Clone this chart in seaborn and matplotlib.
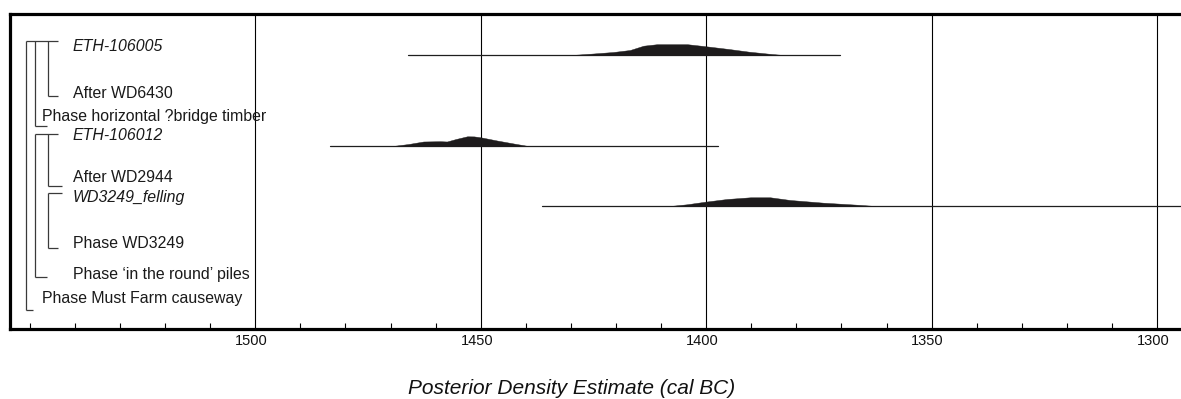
import numpy as np
import pandas as pd
import matplotlib
matplotlib.use("Agg")
import matplotlib.pyplot as plt
import seaborn as sns
from matplotlib.ticker import MultipleLocator, FixedLocator
from matplotlib.transforms import ScaledTranslation

# ---------------- data ----------------
eth106005_years = [1429.8, 1425.0, 1420.6, 1416.9, 1413.9, 1410.9, 1404.2, 1400.2, 1395.0, 1390.5, 1385.5, 1382.9]
eth106005_dens = [0, 1.5, 3.0, 5.0, 9.3, 10.8, 10.8, 8.8, 6.0, 3.3, 1.0, 0]

eth106012_years = [1469.5, 1466.0, 1462.7, 1459.0, 1457.5, 1455.5, 1453.0, 1451.5, 1450.0, 1446.4, 1442.7, 1439.5]
eth106012_dens = [0, 2.0, 4.5, 4.8, 4.5, 7.0, 9.7, 9.6, 8.7, 5.5, 2.5, 0]

wd3249_years = [1408.0, 1404.3, 1400.2, 1395.4, 1390.2, 1385.8, 1381.4, 1374.0, 1366.6, 1362.5]
wd3249_dens = [0, 1.7, 4.3, 7.0, 8.7, 8.7, 6.0, 3.3, 1.3, 0]

dist_names = ["ETH-106005", "ETH-106012", "WD3249_felling"]
range_start = [1466.1, 1483.4, 1436.4]
range_end = [1370.3, 1397.4, 1290.0]

label_names = ["ETH-106005", "After WD6430", "Phase horizontal ?bridge timber",
               "ETH-106012", "After WD2944", "WD3249_felling", "Phase WD3249",
               "Phase \u2018in the round\u2019 piles", "Phase Must Farm causeway"]
label_italic = [True, False, False, True, False, True, False, False, False]

major_ticks = [1500, 1450, 1400, 1350, 1300]
tick_labels = ["1500", "1450", "1400", "1350", "1300"]
xlabel = "Posterior Density Estimate (cal BC)"

# ---------------- layout (pixel rows) ----------------
W, H = 1181, 399
dist_base = [55, 146, 206]
label_x = [73, 73, 42, 73, 73, 73, 73, 73, 42]
label_base = [50.7, 97.7, 120.7, 140.0, 181.7, 201.7, 248.3, 279.3, 303.3]
brackets = [
    (26, 41, 58, 41), (26, 41, 26, 310), (26, 310, 33, 310),
    (35, 41, 35, 126), (35, 126, 47, 126),
    (48, 41, 48, 96), (48, 96, 58, 96),
    (35, 134, 58, 134), (35, 134, 35, 277), (35, 277, 47, 277),
    (48, 134, 48, 186), (48, 186, 62, 186),
    (48, 193, 62, 193), (48, 193, 48, 248), (48, 248, 58, 248),
]

sns.set_theme(style="white")
plt.rcParams["font.family"] = ["Liberation Sans", "DejaVu Sans"]

fig = plt.figure(figsize=(W / 100, H / 100), dpi=100)
ax = fig.add_axes([10 / W, 1 - 328.5 / H, 1 - 10 / W, (328.5 - 13.5) / H])
ax.set_xlim(1554.4, 1294.7)
ax.set_ylim(328.5, 13.5)

# range lines
rows = []
for n, s, e, b in zip(dist_names, range_start, range_end, dist_base):
    rows.append({"name": n, "year": s, "y": b})
    rows.append({"name": n, "year": e, "y": b})
df = pd.DataFrame(rows)
sns.lineplot(data=df, x="year", y="y", units="name", estimator=None, color="#1e1e1e",
             lw=0.9, ax=ax, legend=False, zorder=3)

# distributions
fill_col = "#1d1b1c"
for yrs, dens, b in [(eth106005_years, eth106005_dens, dist_base[0]),
                     (eth106012_years, eth106012_dens, dist_base[1]),
                     (wd3249_years, wd3249_dens, dist_base[2])]:
    yrs = np.array(yrs)
    dens = np.array(dens)
    ax.fill_between(yrs, b, b - dens, color=fill_col, lw=0.3, zorder=4)

# axes styling
ax.set_xlabel("")
ax.set_ylabel("")
ax.xaxis.set_major_locator(FixedLocator(major_ticks))
ax.set_xticklabels(tick_labels, fontsize=10.5, color="#111111")
ax.xaxis.set_minor_locator(MultipleLocator(10))
ax.tick_params(axis="x", which="major", length=0, pad=4)
ax.tick_params(axis="x", which="minor", direction="in", length=4, width=0.8,
               color="black", bottom=True)
ax.set_yticks([])
ax.grid(axis="x", which="major", color="black", lw=0.8)
ax.grid(axis="y", visible=False)
for side in ["left", "top", "bottom"]:
    ax.spines[side].set_visible(True)
    ax.spines[side].set_color("black")
    ax.spines[side].set_linewidth(2.3)
ax.spines["right"].set_visible(False)
off = ScaledTranslation(-4 / 100, 0, fig.dpi_scale_trans)
for lab in ax.get_xticklabels():
    lab.set_transform(lab.get_transform() + off)

# overlay for labels and brackets
ov = fig.add_axes([0, 0, 1, 1], zorder=5)
ov.set_xlim(0, W)
ov.set_ylim(H, 0)
ov.axis("off")
for x0, y0, x1, y1 in brackets:
    ov.plot([x0, x1], [y0, y1], color="#3a3a3a", lw=0.9, solid_capstyle="butt")
for name, it, x, y in zip(label_names, label_italic, label_x, label_base):
    ov.text(x, y, name, fontsize=11.4, style="italic" if it else "normal",
            ha="left", va="baseline", color="#1a1a1a")

ov.text(572, 388, xlabel, fontsize=15, style="italic", ha="center", va="center",
        color="#111111")

fig.savefig("out.png", dpi=100)
